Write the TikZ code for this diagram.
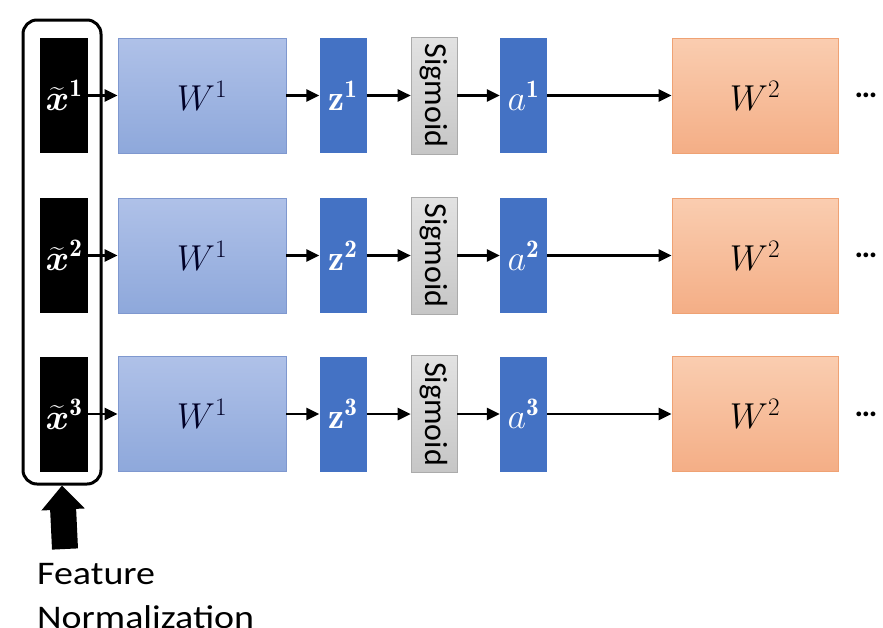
\RequirePackage{fix-cm}
\documentclass[tikz,border=0pt]{standalone}
\usepackage{amsmath}
\usepackage{graphicx}
\usepackage{fontspec}
\setsansfont{Carlito}
\usetikzlibrary{arrows.meta,fit}
\definecolor{zblue}{HTML}{4472C4}
\definecolor{wtop}{HTML}{AFC1E8}
\definecolor{wbot}{HTML}{8EA8DB}
\definecolor{wborder}{HTML}{7F98CF}
\definecolor{otop}{HTML}{FACDB0}
\definecolor{obot}{HTML}{F4AE86}
\definecolor{oborder}{HTML}{EFA274}
\definecolor{gtop}{HTML}{E2E2E2}
\definecolor{gbot}{HTML}{C6C6C6}
\definecolor{gborder}{HTML}{ABABAB}
\begin{document}
\begin{tikzpicture}[x=1pt,y=-1pt,
  mathtxt/.style={font=\fontsize{36}{40}\selectfont},
  inbox/.style={fill=black,minimum width=48pt,minimum height=115pt,inner sep=0pt,text=white,mathtxt},
  wone/.style={draw=wborder,line width=0.8pt,top color=wtop,bottom color=wbot,minimum width=168pt,minimum height=115pt,inner sep=0pt,mathtxt,text=black!85!blue},
  zbox/.style={fill=zblue,minimum width=47pt,minimum height=115pt,inner sep=0pt,text=white,mathtxt},
  sigbox/.style={draw=gborder,line width=0.6pt,top color=gtop,bottom color=gbot,minimum width=117pt,minimum height=46pt,inner sep=0pt,font=\sffamily\fontsize{32}{32}\selectfont},
  wtwo/.style={draw=oborder,line width=0.8pt,top color=otop,bottom color=obot,minimum width=166pt,minimum height=115pt,inner sep=0pt,mathtxt,text=black},
  dots/.style={font=\sffamily\bfseries\fontsize{32}{32}\selectfont},
  arr/.style={line width=2.6pt,-{Triangle[length=13pt,width=12pt]}}
]
\useasboundingbox (0,0) rectangle (883,627);
\foreach \i/\y in {1/95.5,2/255.5,3/414}{
  \node[inbox] (x\i) at (64,\y) {$\widetilde{\boldsymbol{x}}^{\mathbf{\i}}$};
  \node[wone] (wa\i) at (202,\y) {$W^1$};
  \node[zbox] (z\i) at (343,\y) {$\mathbf{z}^{\mathbf{\i}}$};
  \node[sigbox,rotate=-90] (s\i) at (434,\y) {Sigmoid};
  \node[zbox] (a\i) at (523.5,\y) {$a^{\mathbf{\i}}$\hspace{6pt}};
  \node[wtwo] (wb\i) at (755,\y) {$W^2$};
  \node[dots] (d\i) at (866,\y) {\dots};
  \draw[arr] (x\i.east) -- (wa\i.west);
  \draw[arr] (wa\i.east) -- (z\i.west);
  \draw[arr] (z\i.east) -- (s\i.south);
  \draw[arr] (s\i.north) -- (a\i.west);
  \draw[arr] (a\i.east) -- (wb\i.west);
}
\node[draw,line width=3pt,rounded corners=14pt,inner sep=0pt,
  minimum width=78pt,minimum height=464pt] (norm) at (62,252) {};
\coordinate (tail) at (65,549);
\draw[line width=26pt,-{Triangle[length=24pt,width=42pt]}] (tail) -- (norm.south);
\node[anchor=base west,align=left,inner sep=0pt,font=\sffamily\fontsize{33}{44}\selectfont] (lbl) at (37,628) {\scalebox{1.15}[1]{Feature}\\\scalebox{1.15}[1]{Normalization}};
\end{tikzpicture}
\end{document}
